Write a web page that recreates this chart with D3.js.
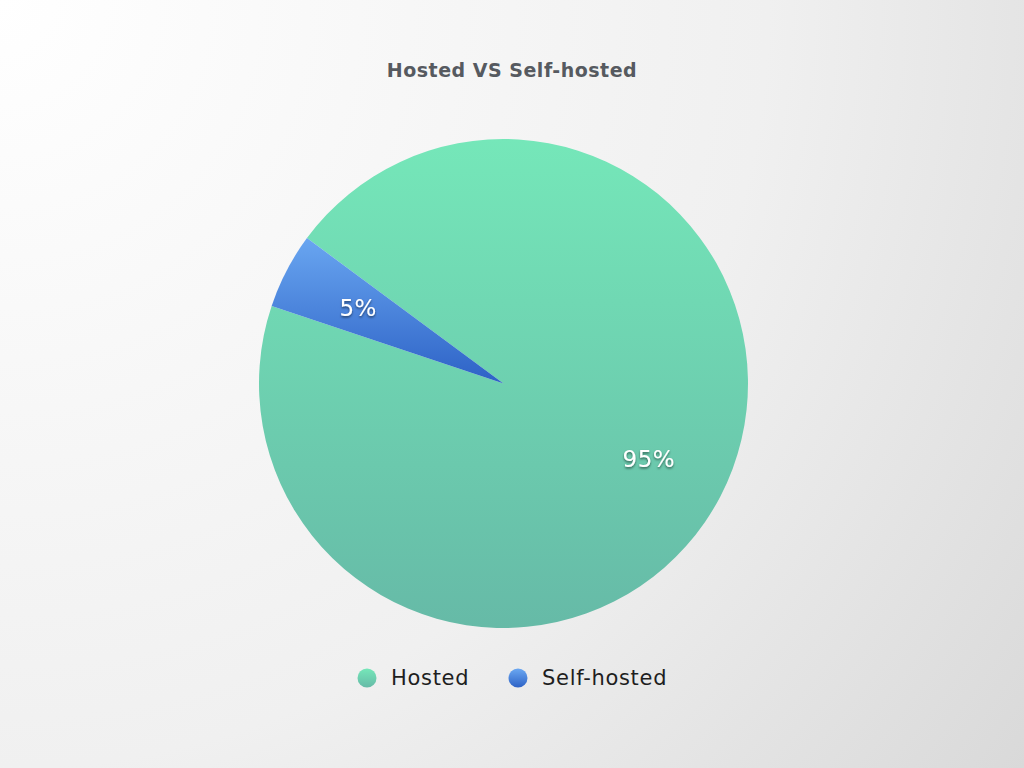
<!DOCTYPE html>
<html><head><meta charset="utf-8">
<script src="https://cdn.jsdelivr.net/npm/d3@7"></script>
<style>html,body{margin:0;padding:0;overflow:hidden;}</style>
</head><body>
<script>
const categories = ["Hosted", "Self-hosted"];
const values = [95, 5];
const labels = ["95%", "5%"];
const title = "Hosted VS Self-hosted";

const W = 1024, H = 768;
const FONT = "'DejaVu Sans', 'Open Sans', sans-serif";
const svg = d3.select("body").append("svg").attr("width", W).attr("height", H);
const defs = svg.append("defs");

const bg = defs.append("radialGradient").attr("id", "bg")
  .attr("gradientUnits", "userSpaceOnUse").attr("cx", 0).attr("cy", 0).attr("r", 1280);
bg.append("stop").attr("offset", "0%").attr("stop-color", "#ffffff");
bg.append("stop").attr("offset", "60%").attr("stop-color", "#f0f0f0");
bg.append("stop").attr("offset", "100%").attr("stop-color", "#d9d9d9");
svg.append("rect").attr("width", W).attr("height", H).attr("fill", "url(#bg)");

const colorStops = [["#75e7b9", "#66baa7"], ["#6ba8f2", "#2d62c6"]];
colorStops.forEach((c, i) => {
  const g = defs.append("linearGradient").attr("id", "g" + i)
    .attr("x1", 0).attr("y1", 0).attr("x2", 0).attr("y2", 1);
  g.append("stop").attr("offset", "0%").attr("stop-color", c[0]);
  g.append("stop").attr("offset", "100%").attr("stop-color", c[1]);
});
const cx = 503.5, cy = 383.5, R = 244.5;
const pieGrad = colorStops.map((c, i) => {
  const g = defs.append("linearGradient").attr("id", "pg" + i)
    .attr("gradientUnits", "userSpaceOnUse")
    .attr("x1", 0).attr("y1", i === 0 ? -R : -150).attr("x2", 0).attr("y2", i === 0 ? R : 0);
  g.append("stop").attr("offset", "0%").attr("stop-color", c[0]);
  g.append("stop").attr("offset", "100%").attr("stop-color", c[1]);
  return "url(#pg" + i + ")";
});

const shadow = defs.append("filter").attr("id", "ts").attr("x", "-20%").attr("y", "-20%").attr("width", "140%").attr("height", "160%");
shadow.append("feDropShadow").attr("dx", 0).attr("dy", 1.5).attr("stdDeviation", 1.2)
  .attr("flood-color", "#000").attr("flood-opacity", 0.55);

svg.append("text").attr("x", 512).attr("y", 77).attr("text-anchor", "middle")
  .attr("font-family", FONT).attr("font-weight", "bold")
  .attr("font-size", 19).attr("letter-spacing", 0.5).attr("fill", "#565a60").text(title);

const startA = -53.5 * Math.PI / 180;
const pie = d3.pie().sort(null).startAngle(startA).endAngle(startA + 2 * Math.PI)(values);
const arc = d3.arc().innerRadius(0).outerRadius(R);
const labelArc = d3.arc().innerRadius(R * 0.67).outerRadius(R * 0.67);

const g = svg.append("g").attr("transform", `translate(${cx},${cy})`);
g.selectAll("path").data(pie).join("path")
  .attr("d", arc).attr("fill", (d, i) => pieGrad[i]);

g.selectAll("text").data(pie).join("text")
  .attr("transform", d => `translate(${labelArc.centroid(d)})`)
  .attr("text-anchor", "middle").attr("dy", "0.35em")
  .attr("font-family", FONT).attr("font-size", 23).attr("letter-spacing", 0.5)
  .attr("fill", "#ffffff").attr("filter", "url(#ts)")
  .text((d, i) => labels[i]);

const legendX = [367, 518];
const lg = svg.append("g");
categories.forEach((c, i) => {
  lg.append("circle").attr("cx", legendX[i]).attr("cy", 678).attr("r", 9.5).attr("fill", "url(#g" + i + ")");
  lg.append("text").attr("x", legendX[i] + 24).attr("y", 678).attr("dy", "0.35em")
    .attr("font-family", FONT).attr("font-size", 21).attr("letter-spacing", 0.7)
    .attr("fill", "#1e1e1e").text(c);
});
</script>
</body></html>
